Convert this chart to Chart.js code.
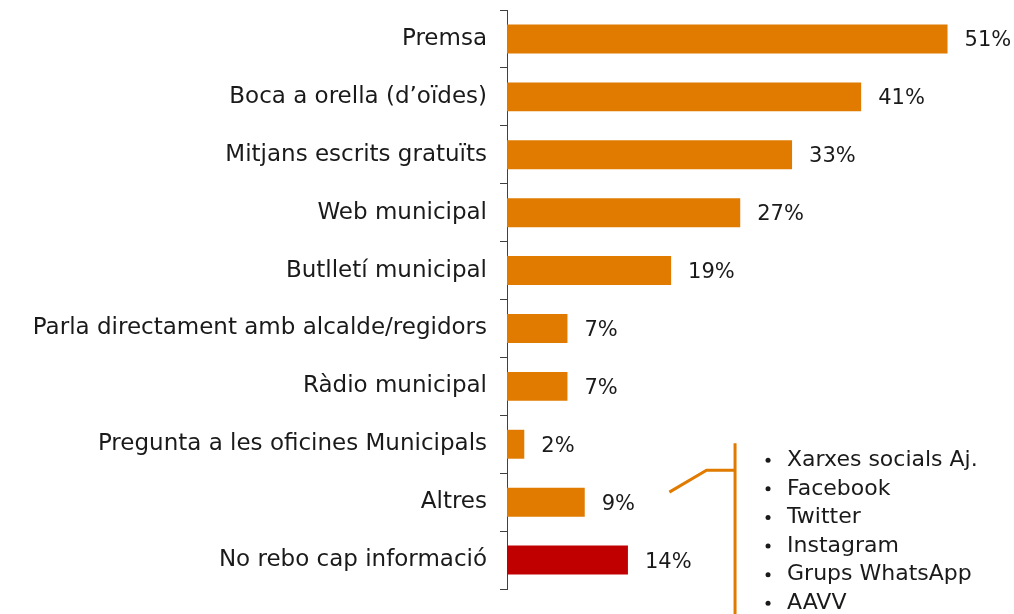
<!DOCTYPE html>
<html>
<head>
<meta charset="utf-8">
<script src="https://cdn.jsdelivr.net/npm/chart.js@4"></script>
<style>
  body { margin: 0; background: #fff; }
  #wrap { width: 1014px; height: 614px; }
</style>
</head>
<body>
<div id="wrap"><canvas id="chart" width="1014" height="614"></canvas></div>
<script>
const categories = [
  "Premsa",
  "Boca a orella (d\u2019oïdes)",
  "Mitjans escrits gratuïts",
  "Web municipal",
  "Butlletí municipal",
  "Parla directament amb alcalde/regidors",
  "Ràdio municipal",
  "Pregunta a les oficines Municipals",
  "Altres",
  "No rebo cap informació"
];
const values = [51, 41, 33, 27, 19, 7, 7, 2, 9, 14];
const barColors = values.map((v, i) => i === values.length - 1 ? "#C00000" : "#E07B00");
const altresItems = ["Xarxes socials Aj.", "Facebook", "Twitter", "Instagram", "Grups WhatsApp", "AAVV"];

const FONT = "'DejaVu Sans', sans-serif";
const TEXT = "#1a1a1a";
const ORANGE = "#E07B00";

// value labels to the right of each bar
const valueLabels = {
  id: "valueLabels",
  afterDatasetsDraw(chart) {
    const ctx = chart.ctx;
    const meta = chart.getDatasetMeta(0);
    ctx.save();
    ctx.font = "21px " + FONT;
    ctx.fillStyle = TEXT;
    ctx.textBaseline = "middle";
    ctx.textAlign = "left";
    meta.data.forEach((bar, i) => {
      ctx.fillText(values[i] + "%", bar.x + 17, bar.y + 2);
    });
    ctx.restore();
  }
};

// bracket + bullet list explaining "Altres"
const altresNote = {
  id: "altresNote",
  afterDraw(chart) {
    const ctx = chart.ctx;
    const xs = chart.scales.x, ys = chart.scales.y;
    const yAltres = ys.getPixelForValue(8);
    const yPreg = ys.getPixelForValue(7);
    const x0 = xs.getPixelForValue(18.8), y0 = yAltres - 10;
    const x1 = xs.getPixelForValue(23.1), y1 = yPreg + 26;
    const xv = xs.getPixelForValue(26.4);
    ctx.save();
    ctx.strokeStyle = ORANGE;
    ctx.lineWidth = 3;
    ctx.beginPath();
    ctx.moveTo(x0, y0);
    ctx.lineTo(x1, y1);
    ctx.lineTo(xv, y1);
    ctx.stroke();
    ctx.beginPath();
    ctx.moveTo(xv, yPreg - 1);
    ctx.lineTo(xv, chart.height);
    ctx.stroke();

    ctx.font = "22px " + FONT;
    ctx.fillStyle = TEXT;
    ctx.textBaseline = "middle";
    altresItems.forEach((t, i) => {
      const y = yPreg + 16 + i * 28.6;
      ctx.beginPath();
      ctx.arc(xv + 33, y, 2.5, 0, Math.PI * 2);
      ctx.fill();
      ctx.fillText(t, xv + 52, y);
    });
    ctx.restore();
  }
};

new Chart(document.getElementById("chart"), {
  type: "bar",
  data: {
    labels: categories,
    datasets: [{
      data: values,
      backgroundColor: barColors,
      barPercentage: 0.5,
      categoryPercentage: 1
    }]
  },
  options: {
    indexAxis: "y",
    responsive: false,
    animation: false,
    layout: { padding: { top: 10, bottom: 25, right: 6, left: 0 } },
    plugins: { legend: { display: false }, tooltip: { enabled: false } },
    scales: {
      x: { display: false, min: 0, max: 58 },
      y: {
        afterFit(scale) {
          scale.width = 507;
          scale.paddingTop = 0;
          scale.paddingBottom = 0;
        },
        border: { display: true, color: "#404040", width: 1 },
        grid: { drawOnChartArea: false, drawTicks: true, tickLength: 7, color: "#404040", offset: true },
        ticks: { color: TEXT, font: { family: FONT, size: 23 }, padding: 13 }
      }
    }
  },
  plugins: [valueLabels, altresNote]
});
</script>
</body>
</html>
